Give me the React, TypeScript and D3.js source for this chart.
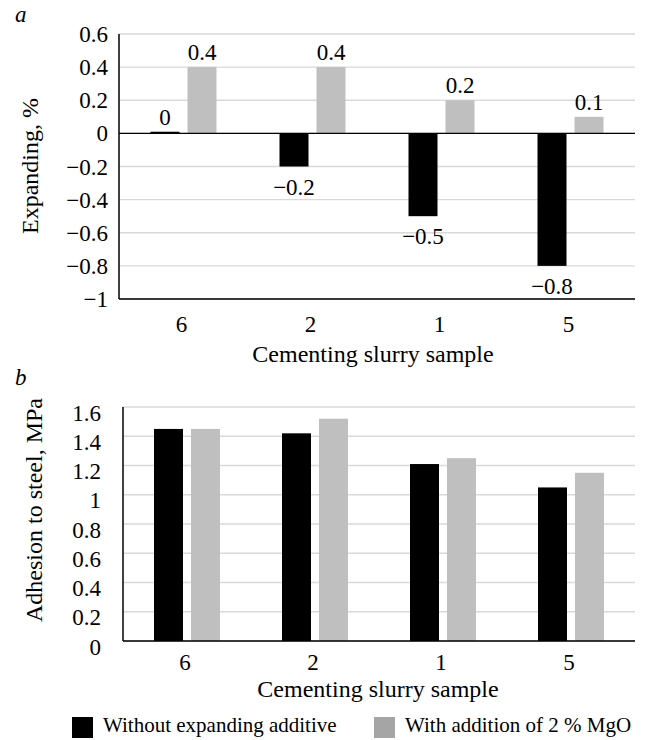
import React from "react";
import * as d3 from "d3";

const categories = ["6", "2", "1", "5"];
const seriesNames = ["Without expanding additive", "With addition of 2 % MgO"];
const seriesColors = ["#000000", "#bfbfbf"];
const legendColors = ["#000000", "#a5a5a5"];

const expandingWithout = [0.01, -0.2, -0.5, -0.8];
const expandingWith = [0.4, 0.4, 0.2, 0.1];
const expandingTicks = [0.6, 0.4, 0.2, 0, -0.2, -0.4, -0.6, -0.8, -1];

const adhesionWithout = [1.45, 1.42, 1.21, 1.05];
const adhesionWith = [1.45, 1.52, 1.25, 1.15];
const adhesionTicks = [0, 0.2, 0.4, 0.6, 0.8, 1, 1.2, 1.4, 1.6];

const FONT = "Tinos, FreeSerif, 'Liberation Serif', 'Times New Roman', serif";
const fmt = (v: number) => d3.format(".1~f")(v);

type PanelProps = {
  left: number;
  right: number;
  top: number;
  bottom: number;
  domain: [number, number];
  ticks: number[];
  a: number[];
  b: number[];
  showLabels: boolean;
  tickRight: number;
  tickDy: number;
  xTickY: number;
  xTitleY: number;
  xTitleX: number;
  yTitle: string;
  yTitleX: number;
  yTitleY: number;
  letter: string;
  letterY: number;
};

const ts = { fontFamily: FONT };

function Panel(p: PanelProps) {
  const y = d3.scaleLinear().domain(p.domain).range([p.bottom, p.top]);
  const x0 = d3.scaleBand<string>().domain(categories).range([p.left, p.right]).padding(0);
  const bw = x0.bandwidth();
  const x1 = d3
    .scaleBand<string>()
    .domain(seriesNames)
    .range([0, bw])
    .paddingInner(8 / 37)
    .paddingOuter((bw - 66) / 2 / 37);
  const series = [p.a, p.b];
  const zero = y(0);
  return (
    <g>
      <text x={15} y={p.letterY} fontSize={23} fontStyle="italic" style={ts}>
        {p.letter}
      </text>
      {p.ticks.map((t) => (
        <line
          key={"g" + t}
          x1={p.left}
          x2={p.right}
          y1={y(t)}
          y2={y(t)}
          stroke="#d9d9d9"
          strokeWidth={1.3}
        />
      ))}
      {p.ticks.map((t) => (
        <text
          key={"t" + t}
          x={p.tickRight}
          y={y(t) + p.tickDy + 8}
          fontSize={23}
          textAnchor="end"
          style={ts}
        >
          {fmt(t)}
        </text>
      ))}
      {series.map((vals, si) =>
        vals.map((v, i) => {
          const xx = (x0(categories[i]) ?? 0) + (x1(seriesNames[si]) ?? 0);
          const yv = y(v);
          return (
            <rect
              key={"b" + si + i}
              x={xx}
              y={Math.min(yv, zero)}
              width={x1.bandwidth()}
              height={Math.abs(zero - yv)}
              fill={seriesColors[si]}
            />
          );
        })
      )}
      {p.showLabels &&
        series.map((vals, si) =>
          vals.map((v, i) => {
            const xx = (x0(categories[i]) ?? 0) + (x1(seriesNames[si]) ?? 0) + x1.bandwidth() / 2;
            const yv = y(v);
            return (
              <text
                key={"l" + si + i}
                x={xx}
                y={v >= 0 ? yv - 7 : yv + 28}
                fontSize={23}
                textAnchor="middle"
                style={ts}
              >
                {fmt(v)}
              </text>
            );
          })
        )}
      <line x1={p.left} x2={p.left} y1={p.top} y2={p.bottom} stroke="#000" strokeWidth={1.5} />
      <line x1={p.left} x2={p.right} y1={p.bottom} y2={p.bottom} stroke="#000" strokeWidth={1.5} />
      {p.domain[0] < 0 && (
        <line x1={p.left} x2={p.right} y1={zero} y2={zero} stroke="#000" strokeWidth={1.3} />
      )}
      {categories.map((c) => (
        <text
          key={"x" + c}
          x={(x0(c) ?? 0) + bw / 2 - 2}
          y={p.xTickY}
          fontSize={23}
          textAnchor="middle"
          style={ts}
        >
          {c}
        </text>
      ))}
      <text x={p.xTitleX} y={p.xTitleY} fontSize={24} textAnchor="middle" style={ts}>
        Cementing slurry sample
      </text>
      <text
        transform={`translate(${p.yTitleX},${p.yTitleY}) rotate(-90)`}
        fontSize={24}
        textAnchor="middle"
        style={ts}
      >
        {p.yTitle}
      </text>
    </g>
  );
}

export default function App() {
  return (
    <svg
      width={645}
      height={740}
      style={{ position: "absolute", left: 0, top: 0, background: "#fff", fontFamily: FONT }}
    >
      <rect width={645} height={740} fill="#fff" />
      <Panel
        left={119}
        right={635}
        top={34}
        bottom={299}
        domain={[-1, 0.6]}
        ticks={expandingTicks}
        a={expandingWithout}
        b={expandingWith}
        showLabels={true}
        tickRight={108}
        tickDy={0}
        xTickY={332}
        xTitleY={362}
        xTitleX={373}
        yTitle="Expanding, %"
        yTitleX={38}
        yTitleY={166}
        letter="a"
        letterY={22}
      />
      <Panel
        left={123}
        right={635}
        top={407}
        bottom={641}
        domain={[0, 1.6]}
        ticks={adhesionTicks}
        a={adhesionWithout}
        b={adhesionWith}
        showLabels={false}
        tickRight={101}
        tickDy={5.5}
        xTickY={670}
        xTitleY={697}
        xTitleX={378}
        yTitle="Adhesion to steel, MPa"
        yTitleX={42}
        yTitleY={510}
        letter="b"
        letterY={385}
      />
      <g>
        {seriesNames.map((s, i) => {
          const lx = [72, 374][i];
          return (
            <g key={s}>
              <rect x={lx} y={717} width={21} height={21} fill={legendColors[i]} />
              <text x={lx + 31} y={732} fontSize={21} style={ts}>
                {s}
              </text>
            </g>
          );
        })}
      </g>
    </svg>
  );
}
